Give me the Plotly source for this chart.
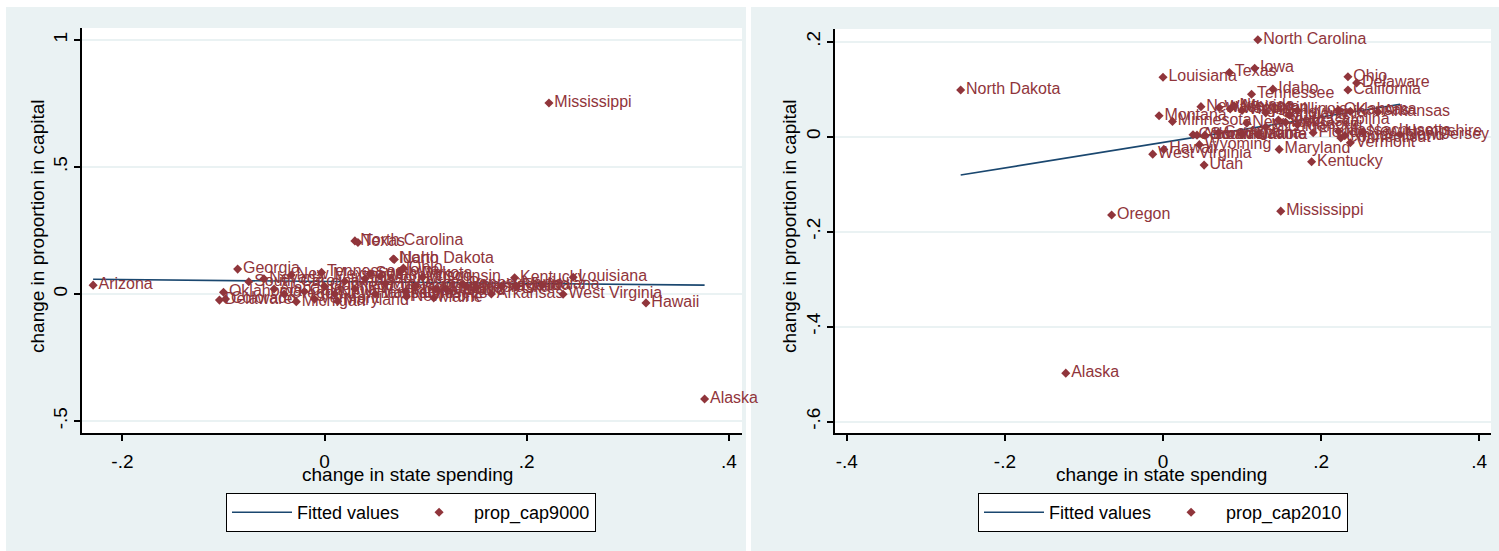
import plotly.graph_objects as go

# ---------------- data: left panel (prop_cap9000) ----------------
states_9000 = ["Mississippi", "Alaska", "Arizona", "North Carolina", "Texas", "Idaho",
               "North Dakota", "Georgia", "South Carolina", "New Mexico", "Oklahoma",
               "Delaware", "Colorado", "Michigan", "Maryland", "Tennessee", "Ohio", "Iowa",
               "Wisconsin", "Kentucky", "Louisiana", "Hawaii", "West Virginia", "Arkansas",
               "Maine", "New York", "Alabama", "California", "Connecticut", "Illinois",
               "Indiana", "Kansas", "Massachusetts", "Minnesota", "Missouri", "Montana",
               "Nebraska", "Nevada", "New Hampshire", "New Jersey", "Oregon", "Pennsylvania",
               "Rhode Island", "South Dakota", "Utah", "Vermont", "Virginia", "Washington",
               "Wyoming", "Florida"]
spend_9000 = [0.222, 0.376, -0.229, 0.030, 0.033, 0.068,
              0.069, -0.086, -0.075, -0.033, -0.100,
              -0.104, -0.098, -0.028, 0.013, -0.003, 0.078, 0.075,
              0.097, 0.188, 0.246, 0.318, 0.236, 0.165,
              0.108, 0.081, -0.050, -0.020, 0.000, 0.020,
              0.215, 0.140, 0.050, 0.060, 0.040, 0.110,
              0.150, -0.060, 0.010, 0.030, -0.040, 0.137,
              0.080, 0.045, 0.120, -0.010, 0.175, 0.055,
              0.090, 0.190]
cap_9000 = [0.752, -0.413, 0.035, 0.209, 0.203, 0.138,
            0.136, 0.098, 0.048, 0.075, 0.007,
            -0.024, -0.020, -0.030, -0.028, 0.085, 0.102, 0.090,
            0.067, 0.064, 0.066, -0.035, -0.001, 0.000,
            -0.015, -0.011, 0.020, 0.010, 0.030, 0.050,
            0.035, 0.030, 0.000, 0.040, 0.060, 0.020,
            0.025, 0.060, 0.000, 0.020, 0.000, 0.039,
            0.010, 0.080, 0.020, -0.020, 0.030, 0.070,
            0.030, 0.030]
fit_x_9000 = [-0.229, 0.376]
fit_y_9000 = [0.058, 0.035]

# ---------------- data: right panel (prop_cap2010) ----------------
states_2010 = ["North Carolina", "Iowa", "Texas", "Louisiana", "North Dakota", "Ohio",
               "Delaware", "California", "Idaho", "Tennessee", "New Mexico", "Washington",
               "Wisconsin", "Montana", "Minnesota", "New York", "South Carolina",
               "South Dakota", "Colorado", "Alabama", "Georgia", "Hawaii", "West Virginia",
               "Wyoming", "Utah", "Maryland", "Kentucky", "Florida", "Oregon", "Mississippi",
               "Alaska", "Arkansas", "Kansas", "Oklahoma", "Massachusetts", "Connecticut",
               "Rhode Island", "New Hampshire", "Vermont", "New Jersey", "Nevada", "Virginia",
               "Pennsylvania", "Indiana", "Illinois", "Michigan", "Missouri", "Nebraska",
               "Arizona", "Maine"]
spend_2010 = [0.120, 0.116, 0.084, 0.000, -0.256, 0.234,
              0.245, 0.234, 0.139, 0.112, 0.048, 0.071,
              0.085, -0.005, 0.012, 0.106, 0.146,
              0.053, 0.038, 0.043, 0.070, 0.001, -0.013,
              0.046, 0.052, 0.147, 0.188, 0.190, -0.065, 0.149,
              -0.123, 0.272, 0.237, 0.222, 0.222, 0.225,
              0.230, 0.253, 0.237, 0.300, 0.090, 0.100,
              0.130, 0.160, 0.170, 0.130, 0.170, 0.155,
              0.100, 0.120]
cap_2010 = [0.204, 0.144, 0.135, 0.125, 0.098, 0.126,
            0.113, 0.098, 0.100, 0.089, 0.063, 0.061,
            0.058, 0.044, 0.032, 0.028, 0.035,
            0.003, 0.004, 0.003, 0.008, -0.027, -0.037,
            -0.017, -0.060, -0.027, -0.053, 0.008, -0.165, -0.157,
            -0.498, 0.052, 0.053, 0.056, 0.011, -0.003,
            0.002, 0.009, -0.013, 0.004, 0.065, 0.055,
            0.050, 0.045, 0.055, 0.020, 0.025, 0.030,
            0.005, 0.004]
fit_x_2010 = [-0.256, 0.300]
fit_y_2010 = [-0.081, 0.068]

# ---------------- tick labels ----------------
x_ticks_9000 = [-0.2, 0, 0.2, 0.4]
x_text_9000 = ["-.2", "0", ".2", ".4"]
y_ticks_9000 = [-0.5, 0, 0.5, 1]
y_text_9000 = ["-.5", "0", ".5", "1"]
x_ticks_2010 = [-0.4, -0.2, 0, 0.2, 0.4]
x_text_2010 = ["-.4", "-.2", "0", ".2", ".4"]
y_ticks_2010 = [-0.6, -0.4, -0.2, 0, 0.2]
y_text_2010 = ["-.6", "-.4", "-.2", "0", ".2"]

# ---------------- styling ----------------
W, H = 1499, 551
NAVY = "#1A476F"
MAROON = "#90353B"
PANEL = "#EAF2F3"
FONT = "Liberation Sans"

def px(x):
    return x / W

def py(y):
    return 1 - y / H

fig = go.Figure()

# Left panel traces
fig.add_trace(go.Scatter(x=fit_x_9000, y=fit_y_9000, mode="lines", name="Fitted values",
                         line=dict(color=NAVY, width=1.6), xaxis="x", yaxis="y",
                         legend="legend"))
fig.add_trace(go.Scatter(x=spend_9000, y=cap_9000, mode="markers+text", name="prop_cap9000",
                         text=states_9000, textposition="middle right",
                         textfont=dict(family=FONT, size=16, color=MAROON),
                         marker=dict(color=MAROON, size=7, symbol="diamond"),
                         cliponaxis=False, xaxis="x", yaxis="y", legend="legend"))
# Right panel traces
fig.add_trace(go.Scatter(x=fit_x_2010, y=fit_y_2010, mode="lines", name="Fitted values",
                         line=dict(color=NAVY, width=1.6), xaxis="x2", yaxis="y2",
                         legend="legend2"))
fig.add_trace(go.Scatter(x=spend_2010, y=cap_2010, mode="markers+text", name="prop_cap2010",
                         text=states_2010, textposition="middle right",
                         textfont=dict(family=FONT, size=16, color=MAROON),
                         marker=dict(color=MAROON, size=7, symbol="diamond"),
                         cliponaxis=False, xaxis="x2", yaxis="y2", legend="legend2"))

axis_common = dict(showline=True, linecolor="black", linewidth=1.5, ticks="outside",
                   ticklen=6, tickwidth=1.5, tickcolor="black", zeroline=False,
                   tickfont=dict(family=FONT, size=19, color="black"))

shapes = [
    dict(type="rect", xref="paper", yref="paper", x0=px(6), x1=px(746), y0=0, y1=py(7),
         fillcolor=PANEL, line=dict(width=0), layer="below"),
    dict(type="rect", xref="paper", yref="paper", x0=px(751), x1=1, y0=0, y1=py(7),
         fillcolor=PANEL, line=dict(width=0), layer="below"),
    dict(type="rect", xref="paper", yref="paper", x0=px(82), x1=px(742), y0=py(433), y1=py(28),
         fillcolor="white", line=dict(width=0), layer="below"),
    dict(type="rect", xref="paper", yref="paper", x0=px(835), x1=px(1491), y0=py(433), y1=py(29),
         fillcolor="white", line=dict(width=0), layer="below"),
]

annotations = [
    dict(text="change in state spending", x=px(408), y=py(474), xref="paper", yref="paper",
         showarrow=False, font=dict(family=FONT, size=19, color="black"),
         xanchor="center", yanchor="middle"),
    dict(text="change in state spending", x=px(1161), y=py(474), xref="paper", yref="paper",
         showarrow=False, font=dict(family=FONT, size=19, color="black"),
         xanchor="center", yanchor="middle"),
    dict(text="change in proportion in capital", x=px(38), y=py(226), xref="paper", yref="paper",
         showarrow=False, textangle=-90, font=dict(family=FONT, size=19, color="black"),
         xanchor="center", yanchor="middle"),
    dict(text="change in proportion in capital", x=px(790), y=py(226), xref="paper", yref="paper",
         showarrow=False, textangle=-90, font=dict(family=FONT, size=19, color="black"),
         xanchor="center", yanchor="middle"),
]

legend_common = dict(orientation="h", bgcolor="white", bordercolor="black", borderwidth=1,
                     font=dict(family=FONT, size=18, color="black"), xanchor="center",
                     yanchor="top", itemwidth=60, entrywidth=0)

fig.update_layout(
    width=W, height=H, margin=dict(l=0, r=0, t=0, b=0),
    paper_bgcolor="white", plot_bgcolor="white",
    font=dict(family=FONT, color="black"),
    xaxis=dict(domain=[px(82), px(742)], range=[-0.240, 0.413], tickvals=x_ticks_9000,
               ticktext=x_text_9000, showgrid=False, anchor="y", ticklabelstandoff=4,
               **axis_common),
    yaxis=dict(domain=[1 - 433 / H, 1 - 28 / H], range=[-0.547, 1.047], tickvals=y_ticks_9000,
               ticktext=y_text_9000, showgrid=True, gridcolor=PANEL, gridwidth=1.5,
               tickangle=-90, anchor="x", **axis_common),
    xaxis2=dict(domain=[px(835), px(1491)], range=[-0.415, 0.415], tickvals=x_ticks_2010,
                ticktext=x_text_2010, showgrid=False, anchor="y2", ticklabelstandoff=4,
                **axis_common),
    yaxis2=dict(domain=[1 - 433 / H, 1 - 29 / H], range=[-0.624, 0.2265], tickvals=y_ticks_2010,
                ticktext=y_text_2010, showgrid=True, gridcolor=PANEL, gridwidth=1.5,
                tickangle=-90, anchor="x2", **axis_common),
    legend=dict(x=px(411), y=py(493), **legend_common),
    legend2=dict(x=px(1163), y=py(493), **legend_common),
    shapes=shapes,
    annotations=annotations,
)

fig.write_html("out.html")
